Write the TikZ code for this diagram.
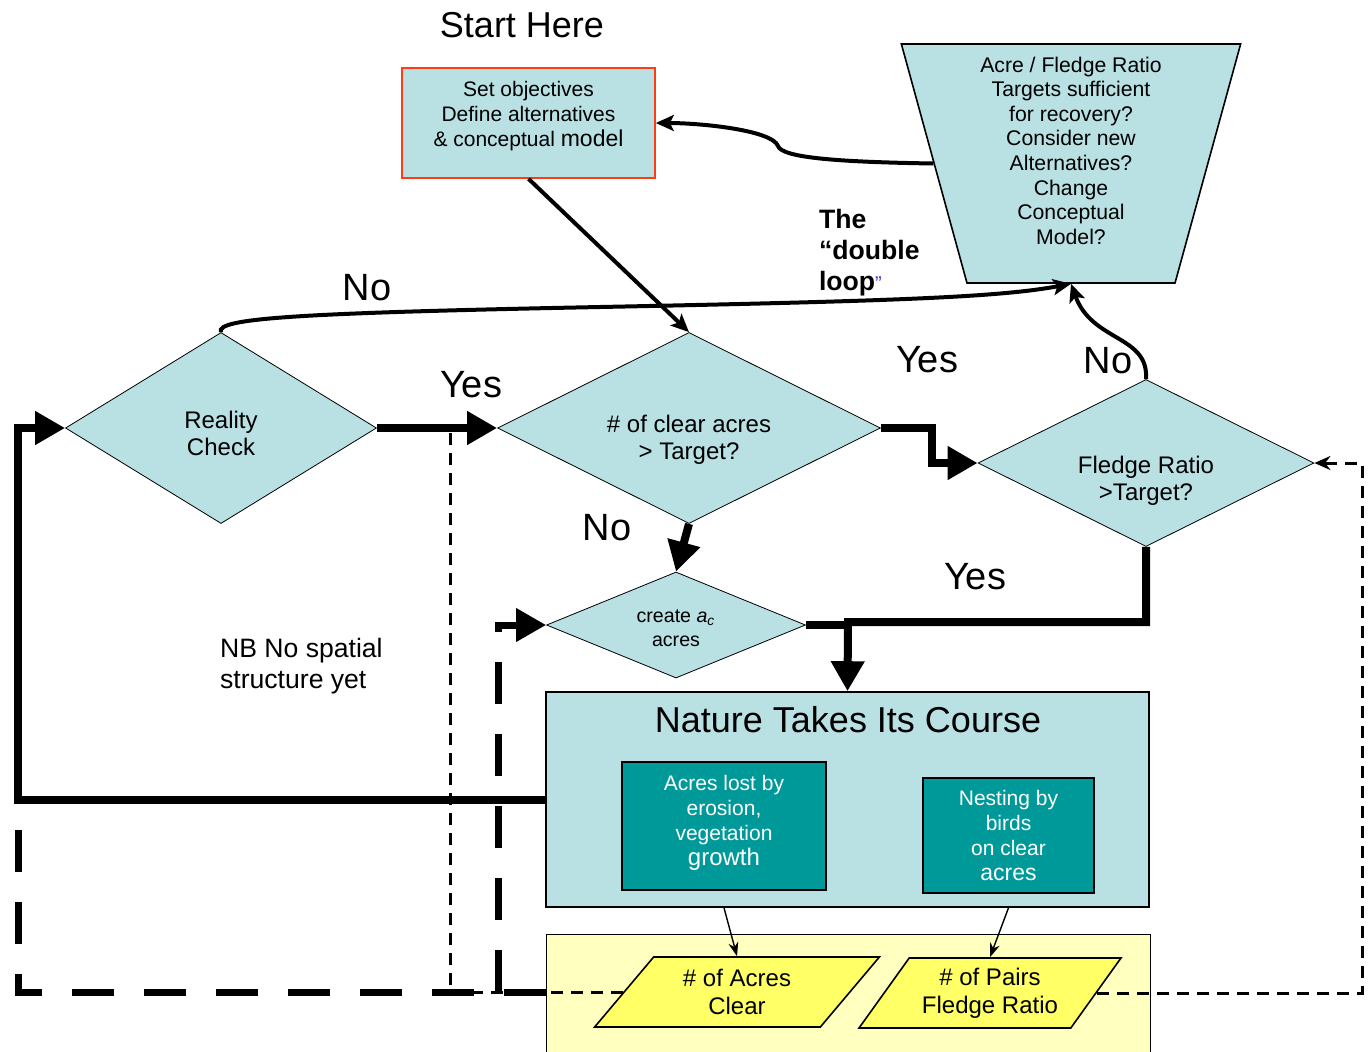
\documentclass[tikz,border=0pt]{standalone}
\usepackage{fontspec}
\setmainfont{Liberation Sans}
\usetikzlibrary{shapes.geometric,arrows.meta}
\definecolor{paleteal}{RGB}{185,224,227}
\definecolor{deepteal}{RGB}{0,153,153}
\definecolor{paleyellow}{RGB}{255,255,192}
\definecolor{brightyellow}{RGB}{255,255,102}
\definecolor{startred}{RGB}{255,60,20}
\definecolor{quoteblue}{RGB}{60,60,200}
\newcommand{\liftlines}[2]{\raisebox{#1}[0pt][0pt]{\begin{tabular}{@{}c@{}}#2\end{tabular}}}
\tikzset{
  decision/.style={diamond,draw,fill=paleteal,inner sep=0pt,align=center,font=\fontsize{12}{13.5}\selectfont},
  datanode/.style={trapezium,trapezium left angle=50,trapezium right angle=130,trapezium stretches=true,draw,thick,fill=brightyellow,inner sep=0pt,minimum height=35pt,align=center,font=\fontsize{12}{14}\selectfont},
  tealbox/.style={rectangle,draw,line width=1pt,fill=deepteal,text=white,inner sep=0pt,align=center,font=\fontsize{10.5}{12.5}\selectfont},
  heavy/.style={line width=4pt,-{Triangle[length=15pt,width=16pt]}},
  medium/.style={line width=2pt,-{Stealth[length=9pt,width=8pt,inset=2pt]}},
  fine/.style={line width=0.7pt,-{Stealth[length=7pt,width=5pt]}},
  heavydash/.style={line width=3.5pt,dash pattern=on 21pt off 15pt},
  thindash/.style={line width=1.5pt,dash pattern=on 6pt off 4pt},
  tag/.style={font=\fontsize{19}{21}\selectfont}
}
\begin{document}
\begin{tikzpicture}[x=0.5pt,y=-0.5pt]
\useasboundingbox (0,0) rectangle (1372,1051);
\node[font=\fontsize{18}{20}\selectfont] (starthere) at (522,25) {Start Here};
\node[draw=startred,thick,fill=paleteal,minimum width=126.5pt,minimum height=55pt,inner sep=0pt,font=\fontsize{10.5}{12.5}\selectfont] (setup) at (528.5,123) {\liftlines{0.5pt}{Set objectives\\Define alternatives\\\& conceptual {\fontsize{11.5}{12.5}\selectfont model}}};
\node[trapezium,shape border rotate=180,trapezium left angle=75,trapezium right angle=75,trapezium stretches=true,draw,thick,fill=paleteal,minimum width=170pt,minimum height=119.5pt,inner sep=0pt,align=center,font=\fontsize{10.6}{12.3}\selectfont] (review) at (1071,163.5) {Acre / Fledge Ratio\\Targets sufficient\\for recovery?\\Consider new\\Alternatives?\\Change\\Conceptual\\Model?\\[0.7pt]};
\node[decision,minimum width=155.5pt,minimum height=95.5pt] (reality) at (221,428) {\liftlines{-7.5pt}{Reality\\Check}};
\node[decision,minimum width=191.5pt,minimum height=95.5pt] (clear) at (689,428) {\liftlines{-9.5pt}{\# of clear acres\\> Target?}};
\node[decision,minimum width=168pt,minimum height=83.5pt] (fledge) at (1146,463) {\liftlines{-12.5pt}{Fledge Ratio\\>Target?}};
\node[decision,minimum width=129.5pt,minimum height=53pt,font=\fontsize{9.8}{12}\selectfont] (create) at (676,625) {\liftlines{-5pt}{create \textit{a\textsubscript{c}}\\acres}};
\node[draw,thick,fill=paleteal,minimum width=301.5pt,minimum height=107.5pt] (nature) at (847.5,799.5) {};
\node[font=\fontsize{18}{20}\selectfont] (naturetitle) at (848,720) {Nature Takes Its Course};
\node[tealbox,minimum width=102pt,minimum height=64pt] (lossbox) at (724,826) {\liftlines{-1pt}{Acres lost by\\erosion,\\vegetation\\{\fontsize{12}{12.5}\selectfont growth}}};
\node[tealbox,minimum width=85.5pt,minimum height=57.5pt] (nestbox) at (1008.5,835.5) {Nesting by\\birds\\on clear\\{\fontsize{11.5}{12.5}\selectfont acres}};
\node[draw,fill=paleyellow,minimum width=302pt,minimum height=61pt] (monitor) at (848,995) {};
\node[datanode,minimum width=143pt] (acres) at (737,992) {\# of Acres\\Clear};
\node[datanode,minimum width=131pt] (pairs) at (990,993) {\# of Pairs\\Fledge Ratio};
\node[font=\bfseries\fontsize{13.3}{15.5}\selectfont,align=left,anchor=north west] (doubleloop) at (812,202) {The\\``double\\loop{\mdseries\fontsize{10}{10}\selectfont\textcolor{quoteblue}{''}}};
\node[font=\fontsize{13.3}{15.5}\selectfont,align=left,anchor=west] (nbnote) at (213,666) {NB No spatial\\structure yet};
\node[tag] (noreality) at (367,288) {No};
\node[tag] (yesreality) at (471,385) {Yes};
\node[tag] (yesclear) at (927,360) {Yes};
\node[tag] (nofledge) at (1108,361) {No};
\node[tag] (noclear) at (607,528) {No};
\node[tag] (yesfledge) at (975,577) {Yes};
\coordinate (bend) at (932,445);
\coordinate (merge) at (848,622);
\coordinate (leftrail) at (18,600);
\coordinate (dropline) at (498,800);
\coordinate (tap) at (450,431);
\coordinate (rightrail) at (1362,700);
\draw[medium] (setup.south) -- (clear.north);
\draw[medium] (review.180) .. controls (840,162) and (782,158) .. (778,146) .. controls (772,130) and (700,123) .. (setup.east);
\draw[medium] (reality.north) .. controls (215,318) and (300,313) .. (600,307) .. controls (900,301) and (1000,297) .. (review.270);
\draw[medium] (fledge.north) .. controls (1149,335) and (1092,342) .. (review.270);
\draw[heavy] (reality.east) -- (clear.west);
\draw[heavy] (clear.east) -| (bend) |- (fledge.west);
\draw[heavy] (clear.south) -- (create.north);
\draw[heavy] (fledge.south) |- (merge) -- (nature.north);
\draw[line width=4pt] (create.east) -- (create.east -| merge);
\draw[heavy] (nature.west) -| (leftrail) |- (reality.west);
\draw[heavydash] (acres -| monitor.west) -- (acres -| leftrail) -- (nature.west -| leftrail);
\draw[heavydash,-{Triangle[length=15pt,width=16pt]}] (acres -| dropline) -- (create.west -| dropline) -- (create.west);
\draw[thindash] (acres.west) -| (tap);
\draw[thindash,-{Stealth[length=8pt,width=7pt]}] (pairs.east) -| (rightrail) |- (fledge.east);
\draw[fine] (lossbox.south |- nature.south) -- (acres.north);
\draw[fine] (nestbox.south |- nature.south) -- (pairs.north);
\end{tikzpicture}
\end{document}
